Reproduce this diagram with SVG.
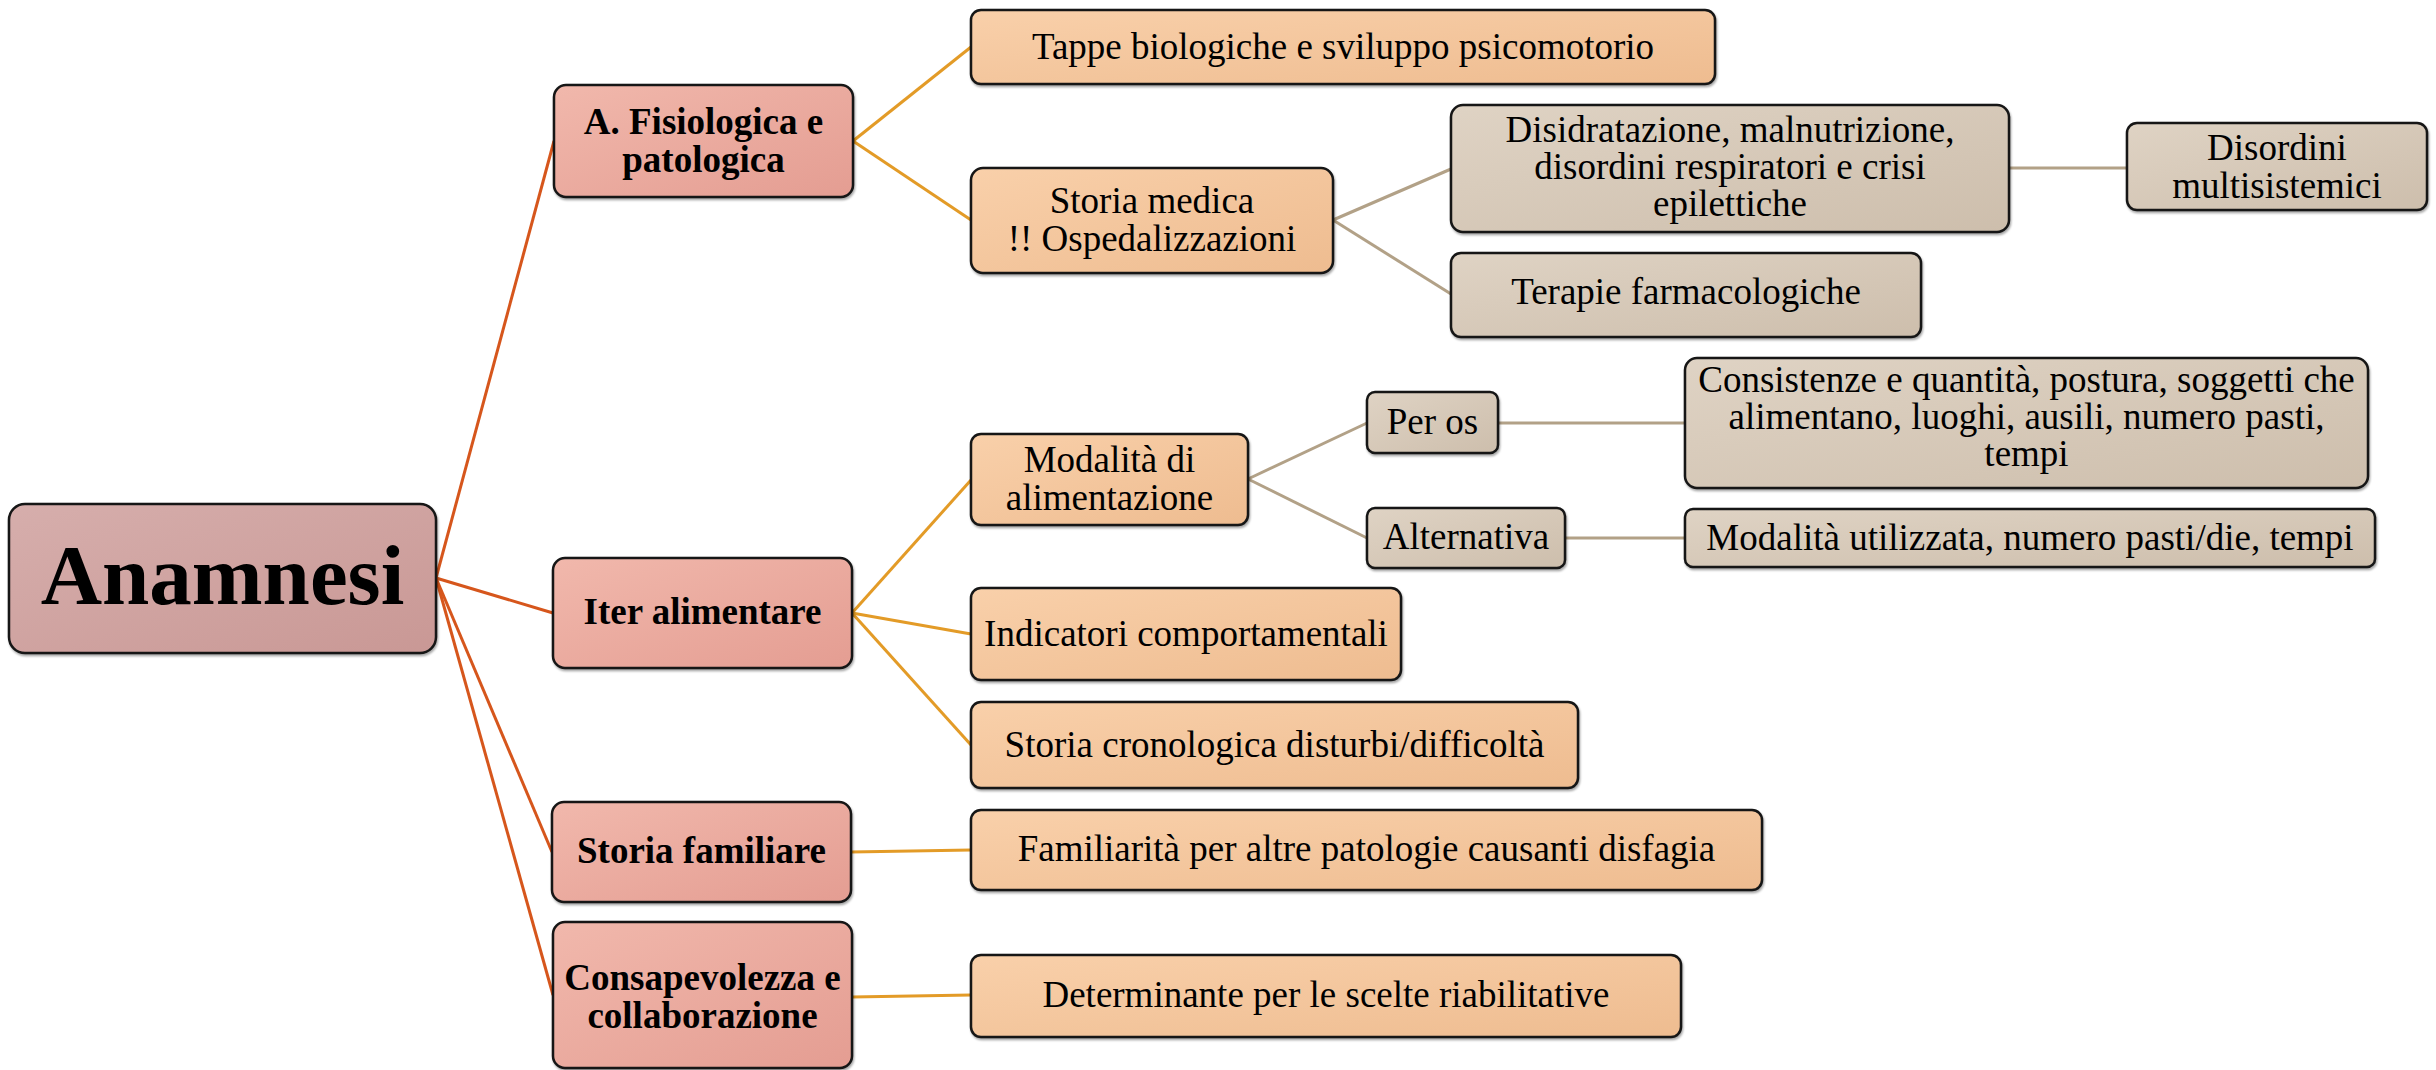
<svg xmlns="http://www.w3.org/2000/svg" width="2436" height="1070" viewBox="0 0 2436 1070">
<defs>
<linearGradient id="gRoot" x1="0" y1="0" x2="1" y2="1"><stop offset="0" stop-color="#D6AEAC"/><stop offset="1" stop-color="#C99895"/></linearGradient>
<linearGradient id="g1" x1="0" y1="0" x2="1" y2="1"><stop offset="0" stop-color="#F1B8AC"/><stop offset="1" stop-color="#E49D92"/></linearGradient>
<linearGradient id="g2" x1="0" y1="0" x2="1" y2="1"><stop offset="0" stop-color="#F9D0AA"/><stop offset="1" stop-color="#EEBC90"/></linearGradient>
<linearGradient id="g3" x1="0" y1="0" x2="1" y2="1"><stop offset="0" stop-color="#DFD3C4"/><stop offset="1" stop-color="#CDBEAC"/></linearGradient>
<filter id="sh" x="-5%" y="-5%" width="110%" height="115%"><feDropShadow dx="1" dy="2" stdDeviation="1.2" flood-color="#000" flood-opacity="0.35"/></filter>
</defs>
<style>
.box{stroke:#151515;stroke-width:2.5;filter:url(#sh)}
.r{fill:url(#gRoot)}
.l1{fill:url(#g1)}
.l2{fill:url(#g2)}
.l3{fill:url(#g3)}
text{font-family:"Liberation Serif","Times New Roman",serif;font-size:37px;fill:#000;text-anchor:middle}
.b{font-weight:bold}
.root{font-size:85px;font-weight:bold}
.c0{stroke:#D6561C;stroke-width:3;fill:none}
.c1{stroke:#E39B27;stroke-width:3;fill:none}
.c2{stroke:#B2A187;stroke-width:3;fill:none}
</style>
<rect width="2436" height="1070" fill="#fff"/>
<g id="connectors">
<line class="c0" x1="436" y1="578" x2="554" y2="141"/>
<line class="c0" x1="436" y1="578" x2="553" y2="613"/>
<line class="c0" x1="436" y1="578" x2="552" y2="852"/>
<line class="c0" x1="436" y1="578" x2="553" y2="995"/>
<line class="c1" x1="853" y1="141" x2="971" y2="47"/>
<line class="c1" x1="853" y1="141" x2="971" y2="220"/>
<line class="c1" x1="852" y1="613" x2="971" y2="480"/>
<line class="c1" x1="852" y1="613" x2="971" y2="634"/>
<line class="c1" x1="852" y1="613" x2="971" y2="745"/>
<line class="c1" x1="851" y1="852" x2="971" y2="850"/>
<line class="c1" x1="852" y1="997" x2="971" y2="995"/>
<line class="c2" x1="1333" y1="220" x2="1451" y2="169"/>
<line class="c2" x1="1333" y1="220" x2="1451" y2="294"/>
<line class="c2" x1="2009" y1="168" x2="2127" y2="168"/>
<line class="c2" x1="1248" y1="479" x2="1367" y2="423"/>
<line class="c2" x1="1248" y1="479" x2="1367" y2="538"/>
<line class="c2" x1="1498" y1="423" x2="1685" y2="423"/>
<line class="c2" x1="1565" y1="538" x2="1685" y2="538"/>
</g>
<g id="root"><rect class="box r" x="9" y="504" width="427" height="149" rx="16"/><text class="root" x="222.5" y="604">Anamnesi</text></g>
<g id="fisiologica"><rect class="box l1" x="554" y="85" width="299" height="112" rx="12"/><text class="b" x="703.5" y="134">A. Fisiologica e</text><text class="b" x="703.5" y="172">patologica</text></g>
<g id="iter"><rect class="box l1" x="553" y="558" width="299" height="110" rx="12"/><text class="b" x="702.5" y="624">Iter alimentare</text></g>
<g id="storia-familiare"><rect class="box l1" x="552" y="802" width="299" height="100" rx="12"/><text class="b" x="701.5" y="863">Storia familiare</text></g>
<g id="consapevolezza"><rect class="box l1" x="553" y="922" width="299" height="146" rx="12"/><text class="b" x="702.5" y="990">Consapevolezza e</text><text class="b" x="702.5" y="1028">collaborazione</text></g>
<g id="tappe"><rect class="box l2" x="971" y="10" width="744" height="74" rx="10"/><text x="1343" y="59">Tappe biologiche e sviluppo psicomotorio</text></g>
<g id="storia-medica"><rect class="box l2" x="971" y="168" width="362" height="105" rx="12"/><text x="1152" y="213">Storia medica</text><text x="1152" y="251">!! Ospedalizzazioni</text></g>
<g id="disidratazione"><rect class="box l3" x="1451" y="105" width="558" height="127" rx="12"/><text x="1730" y="142">Disidratazione, malnutrizione,</text><text x="1730" y="179">disordini respiratori e crisi</text><text x="1730" y="216">epilettiche</text></g>
<g id="disordini"><rect class="box l3" x="2127" y="123" width="300" height="87" rx="10"/><text x="2277" y="160">Disordini</text><text x="2277" y="198">multisistemici</text></g>
<g id="terapie"><rect class="box l3" x="1451" y="253" width="470" height="84" rx="10"/><text x="1686" y="304">Terapie farmacologiche</text></g>
<g id="modalita"><rect class="box l2" x="971" y="434" width="277" height="91" rx="10"/><text x="1109.5" y="472">Modalità di</text><text x="1109.5" y="510">alimentazione</text></g>
<g id="per-os"><rect class="box l3" x="1367" y="392" width="131" height="61" rx="8"/><text x="1432.5" y="434">Per os</text></g>
<g id="alternativa"><rect class="box l3" x="1367" y="508" width="198" height="60" rx="8"/><text x="1466" y="549">Alternativa</text></g>
<g id="consistenze"><rect class="box l3" x="1685" y="358" width="683" height="130" rx="12"/><text x="2026.5" y="392">Consistenze e quantità, postura, soggetti che</text><text x="2026.5" y="429">alimentano, luoghi, ausili, numero pasti,</text><text x="2026.5" y="466">tempi</text></g>
<g id="modalita-utilizzata"><rect class="box l3" x="1685" y="509" width="690" height="58" rx="8"/><text x="2030" y="550">Modalità utilizzata, numero pasti/die, tempi</text></g>
<g id="indicatori"><rect class="box l2" x="971" y="588" width="430" height="92" rx="10"/><text x="1186" y="646">Indicatori comportamentali</text></g>
<g id="storia-cronologica"><rect class="box l2" x="971" y="702" width="607" height="86" rx="10"/><text x="1274.5" y="757">Storia cronologica disturbi/difficoltà</text></g>
<g id="familiarita"><rect class="box l2" x="971" y="810" width="791" height="80" rx="10"/><text x="1366.5" y="861">Familiarità per altre patologie causanti disfagia</text></g>
<g id="determinante"><rect class="box l2" x="971" y="955" width="710" height="82" rx="10"/><text x="1326" y="1007">Determinante per le scelte riabilitative</text></g>
</svg>
